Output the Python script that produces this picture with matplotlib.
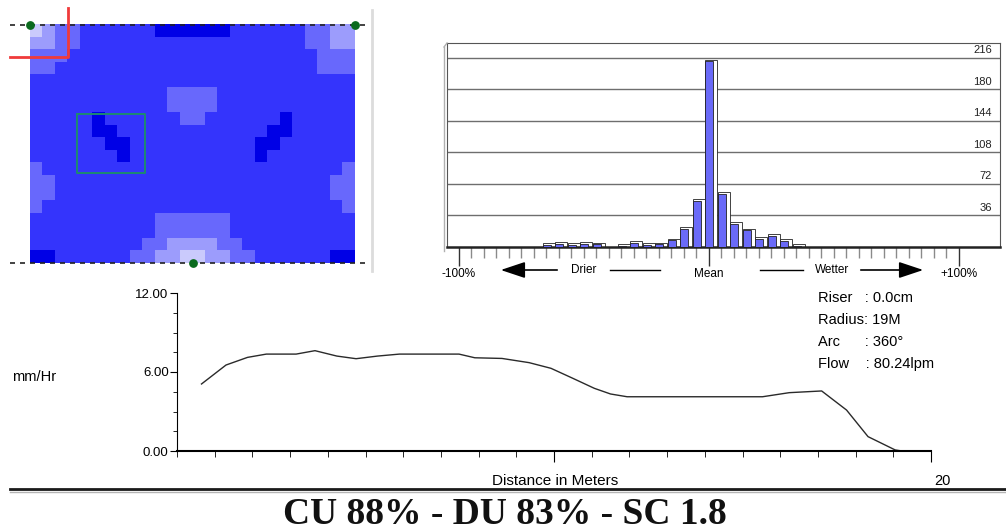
import numpy as np
import matplotlib
matplotlib.use('Agg')
import matplotlib.pyplot as plt
from matplotlib.colors import ListedColormap

W, H = 1006, 531

# coverage map, one char per cell: 0 = wettest (dark) .. 4 = driest (light)
grid_rows = [
    "43221111110000001111112233",
    "33221111111111111111112233",
    "22211111111111111111111222",
    "22111111111111111111111222",
    "11111111111111111111111111",
    "11111111111222211111111111",
    "11111111111222211111111111",
    "11111011111122111111011111",
    "11111001111111111110011111",
    "11111100111111111100111111",
    "11111110111111111101111111",
    "21111111111111111111111112",
    "22111111111111111111111122",
    "22111111111111111111111122",
    "21111111111111111111111112",
    "11111111112222221111111111",
    "11111111112222221111111111",
    "11111111122333322111111111",
    "00111111223344332211111100",
]
level_colors = ['#0000E6', '#3434FC', '#6868FC', '#9C9CFC', '#CACAFC']
heads_x = [0, 26, 13]
heads_y = [0, 0, 19]

# deviation histogram
hist_pct = [-65, -60, -55, -50, -45, -35, -30, -25, -20, -15, -10, -5,
            0, 5, 10, 15, 20, 25, 30, 35]
hist_cnt = [2, 3.5, 2, 3.5, 3, 1.5, 4.5, 2, 3, 7.5, 21, 53,
            212, 61, 26, 19, 9, 12.5, 7, 1.5]
hist_levels = [36, 72, 108, 144, 180, 216]

# radial profile
dist_m = [0.65, 1.30, 1.87, 2.37, 3.16, 3.66, 4.24, 4.75, 5.32, 5.90, 7.48,
          7.90, 8.62, 9.34, 9.92, 10.5, 11.07, 11.5, 11.94, 15.53, 16.24,
          17.1, 17.76, 18.33, 19.05, 19.23]
rate_mmhr = [5.09, 6.53, 7.11, 7.36, 7.36, 7.62, 7.21, 7.01, 7.21, 7.36, 7.36,
             7.08, 7.03, 6.71, 6.28, 5.52, 4.76, 4.33, 4.12, 4.12, 4.43,
             4.56, 3.11, 1.09, 0.08, 0.0]

info_lines = ['Riser   : 0.0cm', 'Radius: 19M', 'Arc      : 360\u00b0', 'Flow    : 80.24lpm']

plt.rcParams['font.family'] = ['Liberation Sans', 'DejaVu Sans']

fig = plt.figure(figsize=(W / 100, H / 100), dpi=100)
fig.patch.set_facecolor('white')


def px_axes(x0, y0, x1, y1):
    return fig.add_axes([x0 / W, 1 - y1 / H, (x1 - x0) / W, (y1 - y0) / H])


# ---- coverage map ----
ax1 = px_axes(0, 0, 380, 275)
grid = np.array([[int(ch) for ch in row] for row in grid_rows])
ax1.imshow(grid, cmap=ListedColormap(level_colors), vmin=-0.5, vmax=4.5,
           extent=(0, 26, 19, 0), interpolation='nearest', aspect='auto')
ax1.set_xlim(-2.4, 28)
ax1.set_ylim(19.95, -2.0)
ax1.axis('off')
for yy in [0, 19]:
    ax1.plot([-1.6, 27.2], [yy, yy], color='#222222', lw=1.2, ls=(0, (3, 3)), zorder=4)
ax1.scatter(heads_x, heads_y, s=28, color='#0B6B1E', zorder=6)
ax1.plot([3.04, 3.04, -1.6], [-1.36, 2.55, 2.55], color='#F03A3A', lw=2, zorder=5)
ax1.plot([3.76, 9.2, 9.2, 3.76, 3.76], [7.1, 7.1, 11.8, 11.8, 7.1],
         color='#1E8A70', lw=1.4, zorder=5)
ax1.plot([27.36, 27.36], [-1.2, 19.6], color='#DCDCDC', lw=2)

# ---- histogram ----
ax2 = px_axes(447, 43, 1000, 247)
ax2.set_xlim(-104.8, 116.6)
ax2.set_ylim(0, 233)
for lvl in hist_levels:
    ax2.axhline(lvl, color='#6E6E6E', lw=1, zorder=1)
    ax2.text(113.4, lvl + 3, str(lvl), ha='right', va='bottom', fontsize=8, color='#222222')
for p, h in zip(hist_pct, hist_cnt):
    ax2.bar(p - 1.4, h + 2, width=4.8, align='edge', color='white',
            edgecolor='#222222', lw=0.6, zorder=2)
    ax2.bar(p - 1.4, h, width=3.2, align='edge', color='#6A6AF8',
            edgecolor='#222222', lw=0.6, zorder=3)
ax2.set_yticks([])
ax2.set_xticks([-100, 0, 100])
ax2.set_xticklabels(['-100%', 'Mean', '+100%'], fontsize=8.5)
ax2.set_xticks(np.arange(-100, 101, 5), minor=True)
ax2.tick_params(which='major', length=14, width=1, color='#333333', pad=1)
ax2.tick_params(which='minor', length=8, width=1, color='#8A8A8A')
for s in ax2.spines.values():
    s.set_color('#555555')
ax2.spines['bottom'].set_linewidth(1.8)
ax2.spines['bottom'].set_color('#222222')

# ---- profile ----
ax3 = px_axes(177, 293, 931, 451)
ax3.plot(dist_m, rate_mmhr, color='#2A2A2A', lw=1)
ax3.set_xlim(0, 20)
ax3.set_ylim(0, 12)
ax3.spines['top'].set_visible(False)
ax3.spines['right'].set_visible(False)
ax3.spines['bottom'].set_linewidth(1.5)
ax3.set_yticks([0, 6, 12])
ax3.set_yticklabels(['0.00', '6.00', '12.00'], fontsize=9.5)
ax3.set_yticks(np.arange(0, 12.1, 1.5), minor=True)
ax3.set_xticks([10, 20])
ax3.set_xticklabels(['', ''])
ax3.set_xticks(np.arange(0, 21, 1), minor=True)
ax3.tick_params(axis='y', which='major', length=5, pad=1)
ax3.tick_params(axis='y', which='minor', length=3)
ax3.tick_params(axis='x', which='major', length=8)
ax3.tick_params(axis='x', which='minor', length=4)

# ---- overlay texts and rules ----
ax0 = fig.add_axes([0, 0, 1, 1])
ax0.set_xlim(0, W)
ax0.set_ylim(H, 0)
ax0.axis('off')

ax0.plot([444, 444], [47, 251], color='#B0B0B0', lw=1)
ax0.plot([444, 447], [47, 43], color='#B0B0B0', lw=1)

arrow = dict(arrowstyle='-|>,head_length=1.5,head_width=0.5', color='black', lw=1.2)
ax0.annotate('', xy=(498, 270), xytext=(560, 270), arrowprops=arrow)
ax0.annotate('', xy=(926, 270), xytext=(858, 270), arrowprops=arrow)
ax0.plot([610, 660], [270, 270], color='black', lw=1)
ax0.plot([760, 803], [270, 270], color='black', lw=1)
ax0.text(584, 270, 'Drier', ha='center', va='center', fontsize=8.5)
ax0.text(832, 270, 'Wetter', ha='center', va='center', fontsize=8.5)

ax0.text(12, 377, 'mm/Hr', ha='left', va='center', fontsize=10.5)
ax0.text(555, 481, 'Distance in Meters', ha='center', va='center', fontsize=11)
ax0.text(942, 481, '20', ha='center', va='center', fontsize=10.5)
for i, line in enumerate(info_lines):
    ax0.text(818, 298 + 22 * i, line, ha='left', va='center', fontsize=10.5)

ax0.plot([10, W], [489, 489], color='#1A1A1A', lw=2)
ax0.plot([10, W], [492, 492], color='#B5B5B5', lw=1)
ax0.text(505, 515, 'CU 88% - DU 83% - SC 1.8', ha='center', va='center',
         fontsize=27, fontweight='bold', family=['Liberation Serif', 'DejaVu Serif'],
         color='#111111')

fig.savefig('out.png', dpi=100, facecolor='white')
